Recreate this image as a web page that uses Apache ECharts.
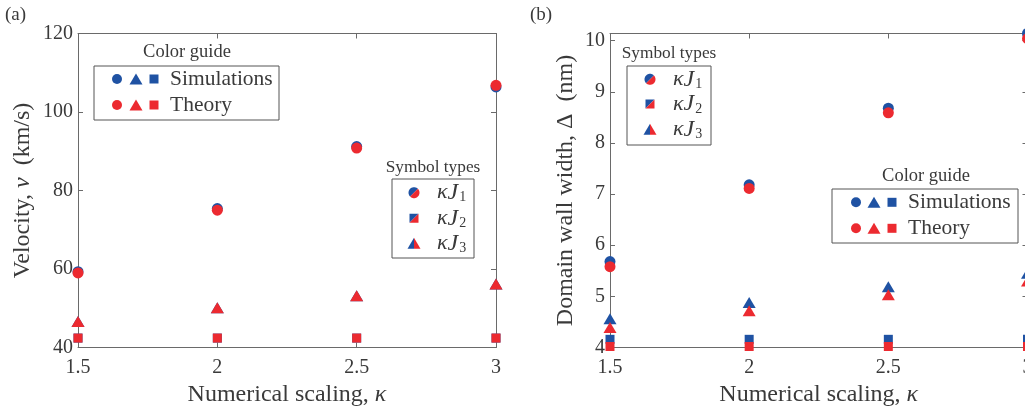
<!DOCTYPE html>
<html>
<head>
<meta charset="UTF-8">
<title>Velocity and domain wall width vs numerical scaling</title>
<script src="https://cdn.jsdelivr.net/npm/echarts@6/dist/echarts.min.js"></script>
<style>
  html, body { margin: 0; padding: 0; background: #fff; }
  #chart { width: 1025px; height: 408px; }
</style>
</head>
<body>
<div id="chart"></div>
<script>
// data
var kappa = [1.5, 2, 2.5, 3];
// (a) velocity, km/s
var velSimJ1 = [59.3, 75.4, 91.2, 106.4];
var velThJ1  = [59.0, 75.0, 90.8, 106.8];
var velSimJ2 = [42.4, 42.4, 42.4, 42.4];
var velThJ2  = [42.4, 42.4, 42.4, 42.4];
var velSimJ3 = [46.6, 50.1, 53.2, 56.2];
var velThJ3  = [46.6, 50.1, 53.2, 56.2];
// (b) domain wall width, nm
var widSimJ1 = [5.68, 7.18, 8.68, 10.14];
var widThJ1  = [5.58, 7.11, 8.59, 10.04];
var widSimJ2 = [4.16, 4.16, 4.16, 4.16];
var widThJ2  = [4.02, 4.02, 4.02, 4.02];
var widSimJ3 = [4.56, 4.88, 5.19, 5.45];
var widThJ3  = [4.39, 4.72, 5.03, 5.30];

var BLUE = '#1f52a3', RED = '#ec2a30';
var INK = '#3a3a3a', FRAME = '#6a6a6a';
var SERIF = '"Liberation Serif", "DejaVu Serif", serif';

var chart = echarts.init(document.getElementById('chart'));

function pts(xs, ys) { return xs.map(function (x, i) { return [x, ys[i]]; }); }

function xAx(grid, top, show) {
  return {
    type: 'value', gridIndex: grid, position: top ? 'top' : 'bottom',
    min: 1.5, max: 3, interval: 0.5,
    axisLine: { show: true, onZero: false, lineStyle: { color: FRAME, width: 1 } },
    axisTick: { show: true, inside: true, length: 5, lineStyle: { color: FRAME } },
    axisLabel: { show: show, margin: 10, fontSize: 20, color: INK, fontFamily: SERIF },
    splitLine: { show: false },
    name: show ? 'Numerical scaling, {i|κ}' : '',
    nameLocation: 'middle', nameGap: 35,
    nameTextStyle: { fontSize: 24, color: INK, fontFamily: SERIF,
      rich: { i: { fontSize: 24, fontStyle: 'italic', color: INK, fontFamily: SERIF } } }
  };
}

function yAx(grid, right, show, min, max, step, name, gap) {
  return {
    type: 'value', gridIndex: grid, position: right ? 'right' : 'left',
    min: min, max: max, interval: step,
    axisLine: { show: true, onZero: false, lineStyle: { color: FRAME, width: 1 } },
    axisTick: { show: true, inside: true, length: 5, lineStyle: { color: FRAME } },
    axisLabel: { show: show, margin: 5, fontSize: 20, color: INK, fontFamily: SERIF,
      formatter: function (v) { return Math.abs(v - Math.round(v)) < 1e-6 ? String(Math.round(v)) : ''; } },
    splitLine: { show: false },
    name: show ? name : '', nameLocation: 'middle', nameGap: gap,
    nameTextStyle: { fontSize: 24, color: INK, fontFamily: SERIF,
      rich: { i: { fontSize: 24, fontStyle: 'italic', color: INK, fontFamily: SERIF } } }
  };
}

function sc(xi, yi, data, symbol, size, color) {
  return {
    type: 'scatter', xAxisIndex: xi, yAxisIndex: yi, data: data,
    symbol: symbol, symbolSize: size, clip: false,
    itemStyle: { color: color, opacity: 1 }, emphasis: { disabled: true }
  };
}

var TRI = [13, 11], SQ = 9, CIR = 11;

// legend helpers (graphic, not data)
function txt(x, y, s, size, align, rich) {
  return { type: 'text', x: x, y: y, silent: true,
    style: { text: s, fontSize: size, fontFamily: SERIF, fill: INK,
      align: align || 'left', verticalAlign: 'middle', rich: rich } };
}
function box(x, y, w, h) {
  return { type: 'rect', silent: true, shape: { x: x, y: y, width: w, height: h },
    style: { fill: '#fff', stroke: '#555', lineWidth: 1 } };
}
function circle(cx, cy, r, c) {
  return { type: 'circle', silent: true, shape: { cx: cx, cy: cy, r: r }, style: { fill: c } };
}
function poly(p, c) {
  return { type: 'polygon', silent: true, shape: { points: p }, style: { fill: c } };
}
function tri(cx, cy, c) {
  return poly([[cx, cy - 5.5], [cx + 6.5, cy + 5.5], [cx - 6.5, cy + 5.5]], c);
}
function sqr(cx, cy, c) {
  return { type: 'rect', silent: true, shape: { x: cx - 4.5, y: cy - 4.5, width: 9, height: 9 }, style: { fill: c } };
}
function halfCircle(cx, cy, r, a0, c) {
  var p = [];
  for (var k = 0; k <= 24; k++) {
    var a = a0 + Math.PI * k / 24;
    p.push([cx + r * Math.cos(a), cy + r * Math.sin(a)]);
  }
  return poly(p, c);
}
function splitCircle(cx, cy) {
  return [halfCircle(cx, cy, 5.5, 3 * Math.PI / 4, BLUE), halfCircle(cx, cy, 5.5, -Math.PI / 4, RED)];
}
function splitSquare(cx, cy) {
  var h = 4.5;
  return [poly([[cx - h, cy - h], [cx + h, cy - h], [cx - h, cy + h]], BLUE),
          poly([[cx + h, cy - h], [cx + h, cy + h], [cx - h, cy + h]], RED)];
}
function splitTri(cx, cy) {
  return [poly([[cx, cy - 5.5], [cx, cy + 5.5], [cx - 6.5, cy + 5.5]], BLUE),
          poly([[cx, cy - 5.5], [cx + 6.5, cy + 5.5], [cx, cy + 5.5]], RED)];
}

var jRich = {
  k: { fontSize: 22, fontStyle: 'italic', fontFamily: SERIF, color: INK },
  j: { fontSize: 24, fontStyle: 'italic', fontFamily: SERIF, color: INK, padding: [0, 1, 0, 0] },
  s: { fontSize: 14, fontFamily: SERIF, color: INK, padding: [10, 0, 0, 0] }
};

function colorGuide(x, y, w, h, titleX, titleY, sx, tx, r1, r2) {
  return [
    txt(titleX, titleY, 'Color guide', 18.5, 'center'),
    box(x, y, w, h),
    circle(sx[0], r1, 5, BLUE), tri(sx[1], r1, BLUE), sqr(sx[2], r1, BLUE),
    circle(sx[0], r2, 5, RED), tri(sx[1], r2, RED), sqr(sx[2], r2, RED),
    txt(tx, r1, 'Simulations', 21.5), txt(tx, r2, 'Theory', 21.5)
  ];
}
function symbolTypes(x, y, w, h, titleX, titleY, sx, tx, rows) {
  var out = [txt(titleX, titleY, 'Symbol types', 17.3, 'center'), box(x, y, w, h)];
  out = out.concat(splitCircle(sx, rows[0]), splitSquare(sx, rows[1]), splitTri(sx, rows[2]));
  for (var i = 0; i < 3; i++) {
    out.push(txt(tx, rows[i], '{k|κ}{j|J}{s|' + (i + 1) + '}', 20, 'left', jRich));
  }
  return out;
}

var graphics = [
  txt(5, 15, '(a)', 19),
  txt(530, 15, '(b)', 19)
].concat(
  colorGuide(94, 66, 185, 54, 187, 52, [117, 136, 154], 170, 79, 105),
  symbolTypes(392, 179, 82, 79, 433, 167, 414, 437, [192.7, 218.3, 243.3]),
  symbolTypes(627, 66, 84, 79, 669, 53, 650, 673, [79.3, 104, 129.3]),
  colorGuide(832, 189, 186, 54, 926, 176, [856, 874, 892], 908, 202.3, 228.3)
);

chart.setOption({
  animation: false,
  backgroundColor: '#fff',
  textStyle: { fontFamily: SERIF },
  grid: [
    { left: 78, top: 33.5, width: 418, height: 314, outerBoundsMode: 'none', containLabel: false },
    { left: 610, top: 33.5, width: 417.5, height: 314, outerBoundsMode: 'none', containLabel: false }
  ],
  xAxis: [xAx(0, false, true), xAx(0, true, false), xAx(1, false, true), xAx(1, true, false)],
  yAxis: [
    yAx(0, false, true, 40, 120, 20, 'Velocity, {i|v}  (km/s)', 43),
    yAx(0, true, false, 40, 120, 20, '', 0),
    yAx(1, false, true, 4, 10.14, 1, 'Domain wall width, Δ  (nm)', 32),
    yAx(1, true, false, 4, 10.14, 1, '', 0)
  ],
  series: [
    sc(0, 0, pts(kappa, velSimJ1), 'circle', CIR, BLUE),
    sc(0, 0, pts(kappa, velSimJ2), 'rect', SQ, BLUE),
    sc(0, 0, pts(kappa, velSimJ3), 'triangle', TRI, BLUE),
    sc(0, 0, pts(kappa, velThJ1), 'circle', CIR, RED),
    sc(0, 0, pts(kappa, velThJ2), 'rect', SQ, RED),
    sc(0, 0, pts(kappa, velThJ3), 'triangle', TRI, RED),
    sc(2, 2, pts(kappa, widSimJ1), 'circle', CIR, BLUE),
    sc(2, 2, pts(kappa, widSimJ2), 'rect', SQ, BLUE),
    sc(2, 2, pts(kappa, widSimJ3), 'triangle', TRI, BLUE),
    sc(2, 2, pts(kappa, widThJ1), 'circle', CIR, RED),
    sc(2, 2, pts(kappa, widThJ2), 'rect', SQ, RED),
    sc(2, 2, pts(kappa, widThJ3), 'triangle', TRI, RED)
  ],
  graphic: graphics
});
</script>
</body>
</html>
